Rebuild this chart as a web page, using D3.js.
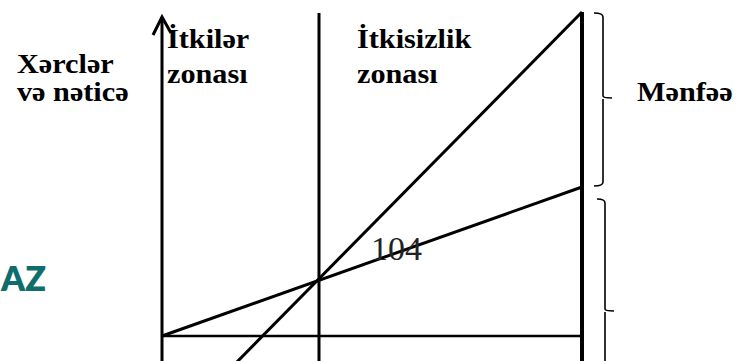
<!DOCTYPE html>
<html>
<head>
<meta charset="utf-8">
<script src="https://cdn.jsdelivr.net/npm/d3@7"></script>
<style>
  html, body { margin: 0; padding: 0; background: #fff; }
  svg { display: block; }
</style>
</head>
<body>
<svg id="chart" width="738" height="361"></svg>
<script>
// ---- data (abstract units of a break-even chart) ----
const volumeDomain = [0, 210];          // production volume
const valueDomain = [0, 213];           // costs & revenue
const breakEvenVolume = 78.5;           // critical point
const fixedCost = 51;                   // fixed costs (horizontal line)
const totalCostAtMax = 125.5;           // total costs at maximum volume
const revenueAtMax = 213;               // revenue at maximum volume
const axisTop = 210.5;                  // top of value axis (arrow tip)
const breakEvenLabel = "104";

const revenueLine = [[0, 0], [210, revenueAtMax]];
const totalCostLine = [[0, fixedCost], [210, totalCostAtMax]];
const fixedCostLine = [[0, fixedCost], [210, fixedCost]];

const yAxisLabel = ["Xərclər", "və nəticə"];
const lossZoneLabel = ["İtkilər", "zonası"];
const safeZoneLabel = ["İtkisizlik", "zonası"];
const profitLabel = ["Mənfəə"];
const watermark = "AZ";

// ---- scales ----
const x = d3.scaleLinear().domain(volumeDomain).range([162, 582]);
const y = d3.scaleLinear().domain(valueDomain).range([438, 12]);

const svg = d3.select("#chart");
const serif = "'Liberation Serif', 'Times New Roman', serif";
const line = d3.line().x(d => x(d[0])).y(d => y(d[1]));
const bottom = y.invert(361 + 5);

// watermark
svg.append("text")
  .attr("x", 1).attr("y", 291)
  .attr("font-family", "Lato, 'Open Sans', sans-serif")
  .attr("font-weight", 800)
  .attr("font-size", 34)
  .attr("fill", "#0f6d6b")
  .text(watermark);

// fixed cost line
svg.append("path").datum(fixedCostLine).attr("d", line)
  .attr("stroke", "#000").attr("stroke-width", 2.6).attr("fill", "none");

// total cost line
svg.append("path").datum(totalCostLine).attr("d", line)
  .attr("stroke", "#000").attr("stroke-width", 3).attr("fill", "none");

// revenue line
svg.append("path").datum(revenueLine).attr("d", line)
  .attr("stroke", "#000").attr("stroke-width", 3).attr("fill", "none");

// value axis (with arrow)
svg.append("path").datum([[0, bottom], [0, axisTop]]).attr("d", line)
  .attr("stroke", "#000").attr("stroke-width", 3).attr("fill", "none");
svg.append("path")
  .attr("d", `M${x(0) - 9},${y(axisTop) + 18} L${x(0)},${y(axisTop)} L${x(0) + 9},${y(axisTop) + 16}`)
  .attr("stroke", "#000").attr("stroke-width", 3).attr("fill", "none")
  .attr("stroke-linejoin", "miter");

// break-even vertical
svg.append("path").datum([[breakEvenVolume, bottom], [breakEvenVolume, 212.5]]).attr("d", line)
  .attr("stroke", "#000").attr("stroke-width", 3).attr("fill", "none");

// maximum volume vertical
svg.append("path").datum([[volumeDomain[1], bottom], [volumeDomain[1], revenueAtMax]]).attr("d", line)
  .attr("stroke", "#000").attr("stroke-width", 4).attr("fill", "none");

// braces
function brace(xv, yTop, yTip, yBot, hook, tipLen) {
  return `M${xv - hook},${yTop} Q${xv},${yTop} ${xv},${yTop + 4} L${xv},${yTip - 2} Q${xv},${yTip} ${xv + tipLen},${yTip}` +
         ` M${xv},${yTip + 1} L${xv},${yBot - 4} Q${xv},${yBot} ${xv - hook},${yBot}`;
}
const bx = x(volumeDomain[1]);
svg.append("path")
  .attr("d", brace(bx + 21, y(revenueAtMax) + 1, 98, y(totalCostAtMax) - 1, 9, 9))
  .attr("stroke", "#000").attr("stroke-width", 1.6).attr("fill", "none");
svg.append("path")
  .attr("d", brace(bx + 23, y(totalCostAtMax) + 12, 311, 380, 8, 9))
  .attr("stroke", "#000").attr("stroke-width", 1.6).attr("fill", "none");

// labels
function lines(textArr, x0, y0, dy) {
  const t = svg.append("text")
    .attr("transform", `translate(${x0},0) scale(1.08,1)`)
    .attr("font-family", serif).attr("font-weight", "bold")
    .attr("font-size", 28).attr("fill", "#000");
  textArr.forEach((s, i) => t.append("tspan").attr("x", 0).attr("y", y0 + i * dy).text(s));
}
lines(yAxisLabel, 17, 73, 28);
lines(lossZoneLabel, 167, 48, 35);
lines(safeZoneLabel, 357, 48, 35);
lines(profitLabel, 637, 101, 0);

svg.append("text")
  .attr("x", x(breakEvenVolume) + 52).attr("y", 260)
  .attr("font-family", serif).attr("font-size", 34).attr("fill", "#222")
  .text(breakEvenLabel);
</script>
</body>
</html>
